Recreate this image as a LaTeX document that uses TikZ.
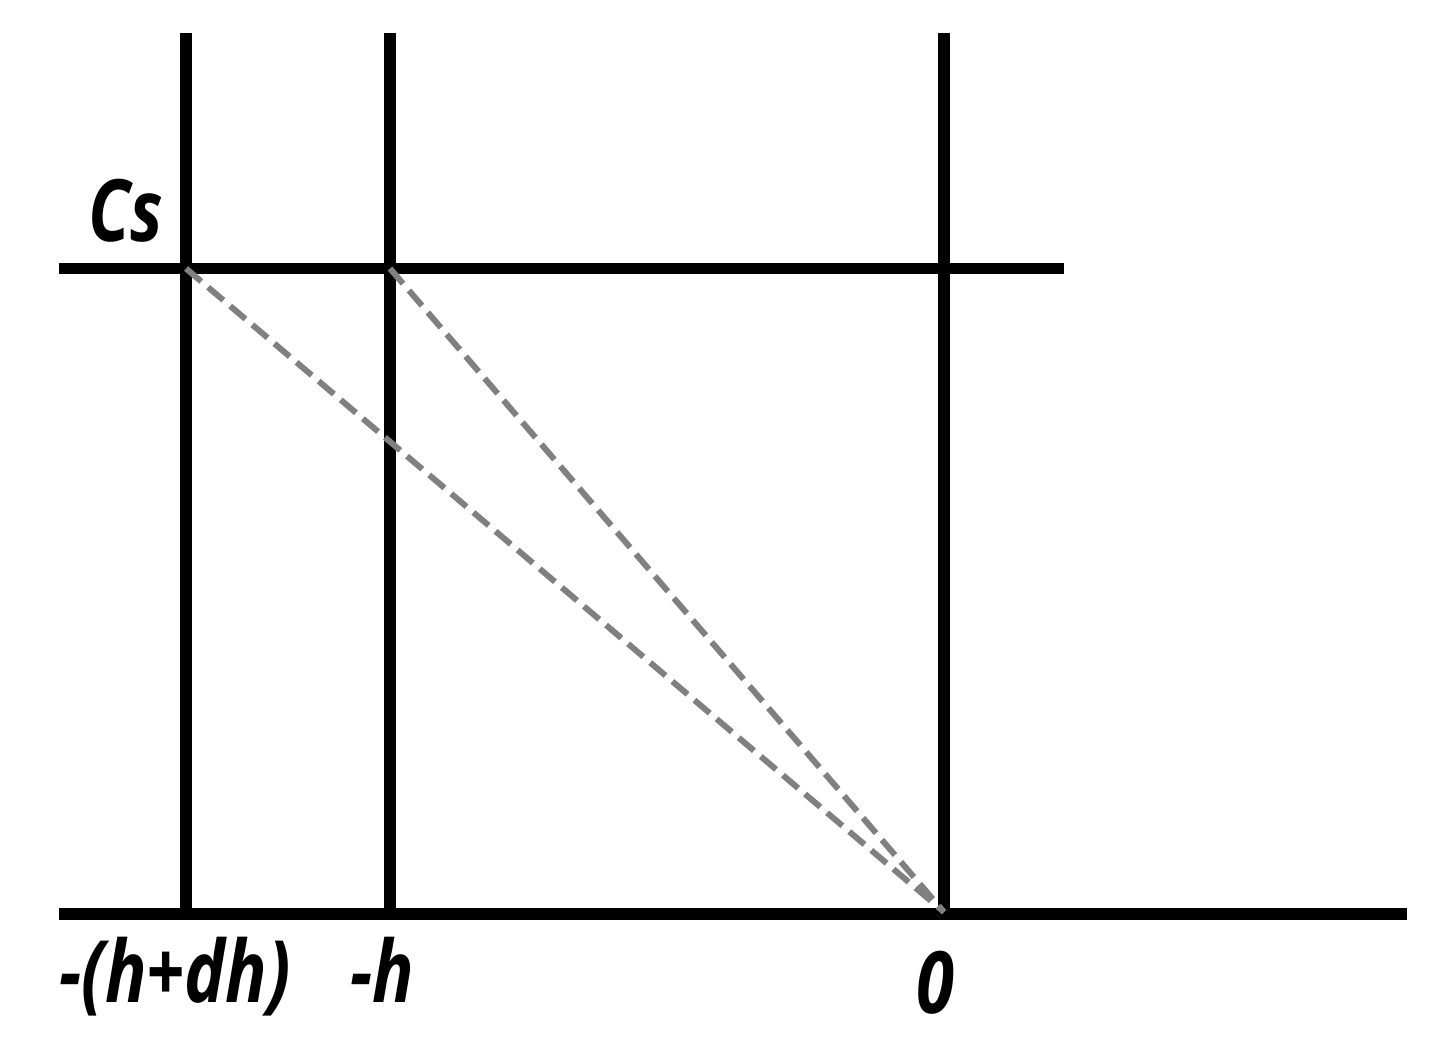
\documentclass[tikz,border=0pt]{standalone}
\usepackage{fontspec}
\setmainfont{Open Sans}[FakeStretch=0.8]
\begin{document}
\begin{tikzpicture}[x=1pt,y=-1pt,
  axis/.style={line width=11.5pt,black},
  guide/.style={line width=6pt,color={rgb,255:red,128;green,128;blue,128},dash pattern=on 20pt off 9pt},
  lab/.style={font=\fontsize{86}{96}\selectfont\bfseries\itshape,inner sep=0pt,anchor=base}]
\useasboundingbox (0,0) rectangle (1434,1046);
\coordinate (v1t) at (186,33); \coordinate (v1b) at (186,914);
\coordinate (v2t) at (390,33); \coordinate (v2b) at (390,914);
\coordinate (v3t) at (944,33); \coordinate (v3b) at (944,914);
\coordinate (hl) at (59,268.5); \coordinate (hr) at (1064,268.5);
\coordinate (bl) at (59,914); \coordinate (br) at (1407,914);
\coordinate (p1) at (186,268.5);
\coordinate (p2) at (390,268.5);
\coordinate (o) at (944,912);
\draw[axis] (v1t) -- (v1b);
\draw[axis] (v2t) -- (v2b);
\draw[axis] (v3t) -- (v3b);
\draw[axis] (hl) -- (hr);
\draw[axis] (bl) -- (br);
\draw[guide] (p1) -- (o);
\draw[guide] (p2) -- (o);
\node[lab] (cs) at (126,241) {Cs};
\node[lab] (l1) at (175,1002) {-(h+dh)};
\node[lab] (l2) at (382,1002) {-h};
\node[lab] (l3) at (935,1013) {0};
\end{tikzpicture}
\end{document}
